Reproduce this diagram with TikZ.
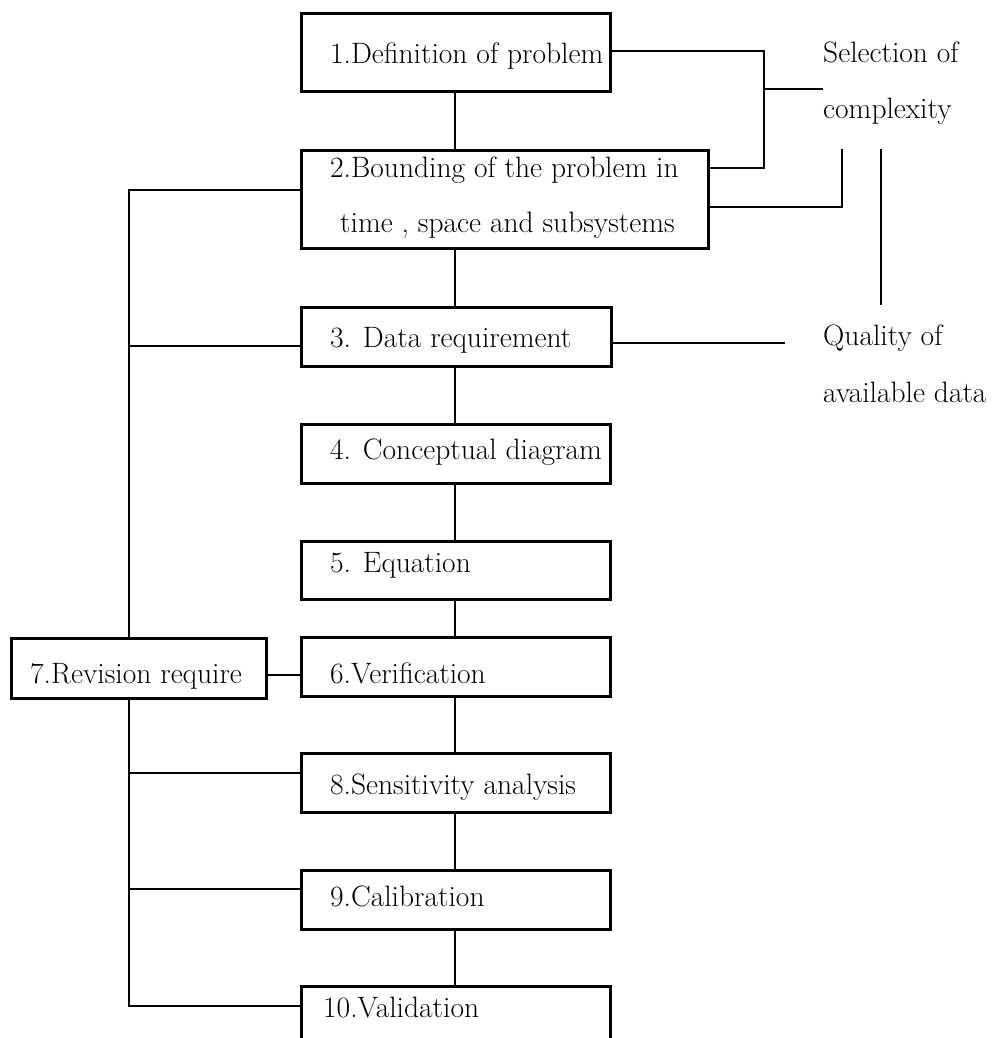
\documentclass[tikz,border=0pt]{standalone}
\begin{document}
\begin{tikzpicture}[x=1pt,y=-1pt,
  box/.style={draw, line width=2.8pt, rectangle, inner sep=0pt, anchor=north west},
  lbl/.style={anchor=base west, inner sep=0pt, font=\fontsize{29.5}{34}\selectfont},
  conn/.style={line width=2.6pt}]
\clip (0,0) rectangle (999,1038);
\fill[white] (0,0) rectangle (999,1038);
% boxes
\node[box, minimum width=309pt, minimum height=78pt] (b1) at (300,12) {};
\node[box, minimum width=407pt, minimum height=98pt] (b2) at (300,149) {};
\node[box, minimum width=310pt, minimum height=59pt] (b3) at (300,306) {};
\node[box, minimum width=309pt, minimum height=59pt] (b4) at (300,423) {};
\node[box, minimum width=309pt, minimum height=58pt] (b5) at (300,540) {};
\node[box, minimum width=309pt, minimum height=59pt] (b6) at (300,636) {};
\node[box, minimum width=255pt, minimum height=60pt] (b7) at (10,637) {};
\node[box, minimum width=309pt, minimum height=59pt] (b8) at (300,752) {};
\node[box, minimum width=309pt, minimum height=59pt] (b9) at (300,869) {};
\node[box, minimum width=309pt, minimum height=80pt] (b10) at (300,985) {};
% texts
\node[lbl] (t1) at (330,64) {1.Definition of problem};
\node[lbl] (t2a) at (330,177) {2.Bounding of the problem in};
\node[lbl] (t2b) at (340,232) {time , space and subsystems};
\node[lbl] (t3) at (330,347) {3. Data requirement};
\node[lbl] (t4) at (330,459) {4. Conceptual diagram};
\node[lbl] (t5) at (330,572) {5. Equation};
\node[lbl] (t6) at (330,683) {6.Verification};
\node[lbl] (t7) at (30,683) {7.Revision require};
\node[lbl] (t8) at (330,794) {8.Sensitivity analysis};
\node[lbl] (t9) at (330,906) {9.Calibration};
\node[lbl] (t10) at (323,1017) {10.Validation};
\node[lbl] (s1) at (823,63) {Selection of};
\node[lbl] (s2) at (823,118) {complexity};
\node[lbl] (q1) at (823,345) {Quality of};
\node[lbl] (q2) at (823,402) {available data};
% coordinates
\coordinate (sp) at (455,0);
\coordinate (lv) at (129,0);
\coordinate (rv1) at (764,0);
\coordinate (rv2) at (842,0);
\coordinate (sel) at (823,89);
\coordinate (v3top) at (881,149);
\coordinate (v3bot) at (881,305);
\coordinate (qend) at (785,343);
% spine
\draw[conn] (b1.south -| sp) -- (b2.north -| sp);
\draw[conn] (b2.south -| sp) -- (b3.north -| sp);
\draw[conn] (b3.south -| sp) -- (b4.north -| sp);
\draw[conn] (b4.south -| sp) -- (b5.north -| sp);
\draw[conn] (b5.south -| sp) -- (b6.north -| sp);
\draw[conn] (b6.south -| sp) -- (b8.north -| sp);
\draw[conn] (b8.south -| sp) -- (b9.north -| sp);
\draw[conn] (b9.south -| sp) -- (b10.north -| sp);
% right side
\draw[conn] (b1.east |- 0,51) -- (rv1 |- 0,51) -- (rv1 |- 0,168) -- (b2.east |- 0,168);
\draw[conn] (rv1 |- sel) -- (sel);
\draw[conn] (b2.east |- 0,207) -- (rv2 |- 0,207) -- (rv2 |- b2.north);
\draw[conn] (v3top) -- (v3bot);
\draw[conn] (b3.east |- qend) -- (qend);
% left side
\draw[conn] (b2.west |- 0,190) -- (lv |- 0,190) -- (lv |- b7.north);
\draw[conn] (lv |- 0,346) -- (b3.west |- 0,346);
\draw[conn] (b7.east |- 0,675) -- (b6.west |- 0,675);
\draw[conn] (lv |- b7.south) -- (lv |- 0,1006) -- (b10.west |- 0,1006);
\draw[conn] (lv |- 0,773) -- (b8.west |- 0,773);
\draw[conn] (lv |- 0,889) -- (b9.west |- 0,889);
\end{tikzpicture}
\end{document}
